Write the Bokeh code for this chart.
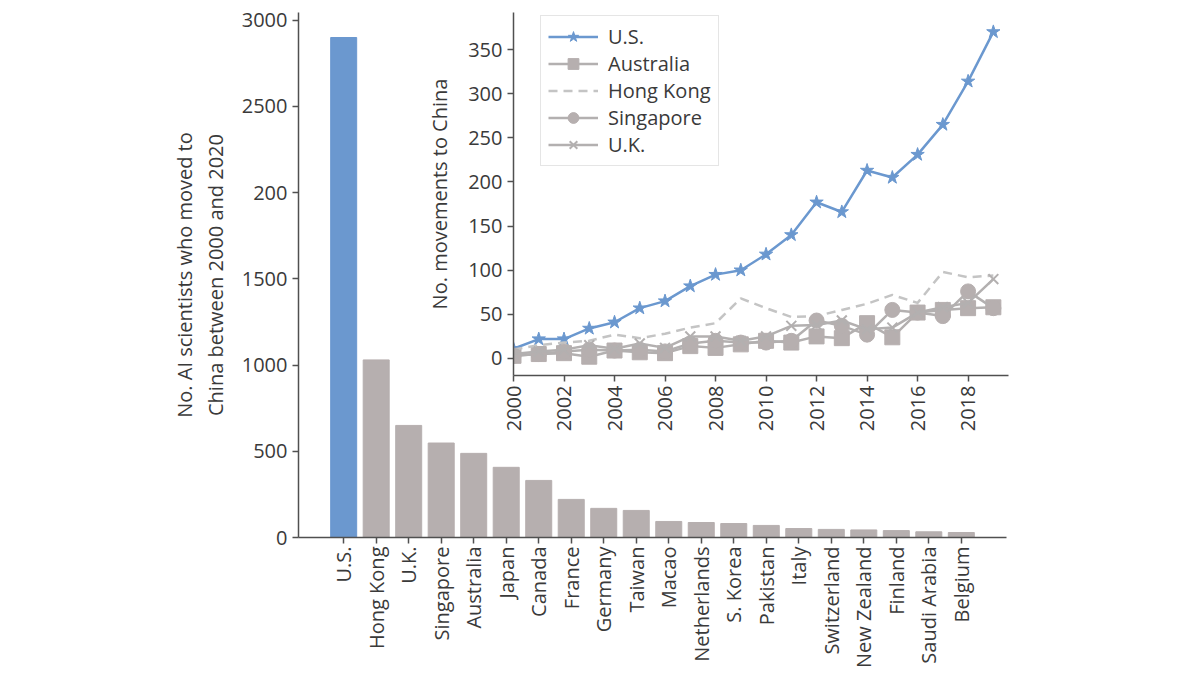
import math
from bokeh.plotting import figure
from bokeh.models import Range1d, FactorRange, FixedTicker, Legend, LegendItem
from bokeh.layouts import column
from bokeh.embed import file_html
from bokeh.resources import INLINE

# ---------------- data ----------------
countries = ["U.S.", "Hong Kong", "U.K.", "Singapore", "Australia", "Japan", "Canada",
             "France", "Germany", "Taiwan", "Macao", "Netherlands", "S. Korea", "Pakistan",
             "Italy", "Switzerland", "New Zealand", "Finland", "Saudi Arabia", "Belgium"]
totals = [2900, 1030, 650, 548, 488, 407, 331, 221, 169, 157, 93, 87, 81, 70,
          52, 47, 44, 40, 33, 29]

years = [2000, 2001, 2002, 2003, 2004, 2005, 2006, 2007, 2008, 2009,
         2010, 2011, 2012, 2013, 2014, 2015, 2016, 2017, 2018, 2019]
us_moves = [11, 22, 22, 34, 41, 57, 65, 82, 95, 100, 118, 140, 177, 166, 213, 205, 231, 265, 314, 370]
australia_moves = [3, 5, 6, 2, 9, 7, 6, 14, 12, 16, 20, 18, 25, 23, 40, 24, 52, 55, 57, 58]
hongkong_moves = [10, 15, 18, 20, 27, 23, 28, 35, 40, 68, 57, 47, 48, 55, 62, 72, 63, 98, 92, 94]
singapore_moves = [3, 5, 8, 10, 9, 10, 8, 17, 20, 18, 18, 20, 43, 37, 27, 55, 52, 48, 76, 57]
uk_moves = [5, 8, 10, 15, 11, 17, 12, 25, 25, 20, 25, 37, 38, 43, 33, 35, 52, 58, 63, 90]

main_ticks = [0, 500, 1000, 1500, 2000, 2500, 3000]
main_tick_labels = {2000: "200"}
inset_yticks = [0, 50, 100, 150, 200, 250, 300, 350]
inset_xticks = [2000, 2002, 2004, 2006, 2008, 2010, 2012, 2014, 2016, 2018]

# ---------------- style ----------------
FONT = "Open Sans"
FS = "20px"
BLUE = "#6b98cf"
GRAY = "#b6afaf"
LGRAY = "#b3b0b0"
DASH = "#c4c4c4"
AXC = "#505050"
TXT = "#3a3a3a"
W = 1184
H = 670
LEFT = 298          # shared left border (column aligns borders of its plots)
RIGHT = W - 1006    # shared right border
INSET_SHIFT = 513 - LEFT
INSET_W = 1008 + RIGHT - INSET_SHIFT


def style_axis(ax):
    ax.axis_line_color = AXC
    ax.axis_line_width = 1.5
    ax.major_tick_line_color = AXC
    ax.major_tick_line_width = 1.5
    ax.major_tick_in = 0
    ax.major_tick_out = 6
    ax.minor_tick_line_color = None
    ax.major_label_text_font = FONT
    ax.major_label_text_font_size = FS
    ax.major_label_text_color = TXT
    ax.axis_label_text_font = FONT
    ax.axis_label_text_font_size = FS
    ax.axis_label_text_font_style = "normal"
    ax.axis_label_text_color = TXT


# ---------------- main bar chart ----------------
bar_colors = [BLUE] + [GRAY] * (len(countries) - 1)

p = figure(x_range=FactorRange(factors=countries, range_padding=0.089),
           y_range=Range1d(0, 3045),
           width=W, height=H,
           min_border_left=LEFT, min_border_right=RIGHT, min_border_top=12, min_border_bottom=H - 537,
           output_backend="svg", toolbar_location=None)
p.vbar(x=countries, top=totals, width=0.8, color=bar_colors)
p.xgrid.visible = False
p.ygrid.visible = False
p.outline_line_color = None
p.background_fill_color = None
p.border_fill_color = None

style_axis(p.xaxis[0])
style_axis(p.yaxis[0])
p.xaxis.major_label_orientation = math.pi / 2
p.xaxis.major_label_standoff = 3
p.yaxis.ticker = FixedTicker(ticks=main_ticks)
p.yaxis.major_label_overrides = main_tick_labels
p.yaxis.axis_label = "No. AI scientists who moved to\nChina between 2000 and 2020"
p.yaxis.axis_label_standoff = 10
p.yaxis.axis_label_text_line_height = 1.15

# ---------------- inset line chart ----------------
q = figure(x_range=Range1d(2000, 2019.6), y_range=Range1d(-19.3, 392),
           width=INSET_W, height=12 + 363 + 72,
           min_border_left=LEFT, min_border_right=RIGHT, min_border_top=12, min_border_bottom=72,
           output_backend="svg", toolbar_location=None,
           margin=(-H, 0, 0, INSET_SHIFT))
q.xgrid.visible = False
q.ygrid.visible = False
q.outline_line_color = None
q.background_fill_color = None
q.border_fill_color = None

r_us_l = q.line(years, us_moves, color=BLUE, line_width=2.5)
r_us_m = q.scatter(years, us_moves, marker="star", size=14, color=BLUE)
r_au_l = q.line(years, australia_moves, color=LGRAY, line_width=2.5)
r_au_m = q.scatter(years, australia_moves, marker="square", size=15, color=GRAY)
r_hk_l = q.line(years, hongkong_moves, color=DASH, line_width=2.5, line_dash="9 6")
r_sg_l = q.line(years, singapore_moves, color=LGRAY, line_width=2.5)
r_sg_m = q.scatter(years, singapore_moves, marker="circle", size=15, color=GRAY)
r_uk_l = q.line(years, uk_moves, color=LGRAY, line_width=2.5)
r_uk_m = q.scatter(years, uk_moves, marker="x", size=14, line_color=LGRAY, line_width=2)

style_axis(q.xaxis[0])
style_axis(q.yaxis[0])
q.xaxis.ticker = FixedTicker(ticks=inset_xticks)
q.xaxis.major_label_orientation = math.pi / 2
q.xaxis.major_label_standoff = 4
q.yaxis.ticker = FixedTicker(ticks=inset_yticks)
q.yaxis.axis_label = "No. movements to China"
q.yaxis.axis_label_standoff = 12

legend = Legend(items=[
    LegendItem(label="U.S.", renderers=[r_us_l, r_us_m]),
    LegendItem(label="Australia", renderers=[r_au_l, r_au_m]),
    LegendItem(label="Hong Kong", renderers=[r_hk_l]),
    LegendItem(label="Singapore", renderers=[r_sg_l, r_sg_m]),
    LegendItem(label="U.K.", renderers=[r_uk_l, r_uk_m]),
], location=(27, 209))
legend.label_text_font = FONT
legend.label_text_font_size = FS
legend.label_text_color = TXT
legend.glyph_width = 50
legend.glyph_height = 27
legend.label_height = 22
legend.spacing = 0
legend.padding = 7
legend.label_standoff = 10
legend.border_line_color = "#cccccc"
legend.border_line_width = 1.5
legend.background_fill_color = "white"
legend.background_fill_alpha = 0.85
q.add_layout(legend, "center")

layout = column(p, q)
open("out.html", "w").write(file_html(layout, INLINE))
